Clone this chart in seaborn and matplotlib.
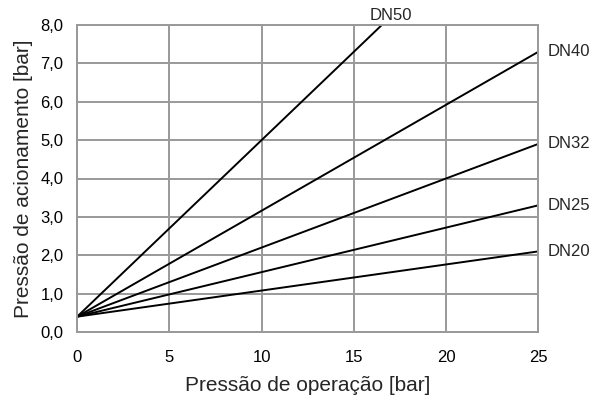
import matplotlib
matplotlib.use("Agg")
import matplotlib.pyplot as plt
import seaborn as sns
import pandas as pd

series = ["DN20", "DN25", "DN32", "DN40", "DN50"]
x_vals = [0, 25]
start_vals = [0.4, 0.4, 0.4, 0.4, 0.4]
end_vals = [2.1, 3.3, 4.9, 7.3, 11.9]
x_ticks = [0, 5, 10, 15, 20, 25]
y_ticks = [0, 1, 2, 3, 4, 5, 6, 7, 8]
y_tick_labels = ["0,0", "1,0", "2,0", "3,0", "4,0", "5,0", "6,0", "7,0", "8,0"]

rows = []
for s, a, b in zip(series, start_vals, end_vals):
    rows.append({"x": x_vals[0], "y": a, "s": s})
    rows.append({"x": x_vals[1], "y": b, "s": s})
df = pd.DataFrame(rows)

sns.set_style("white")
plt.rcParams["font.family"] = ["Liberation Sans", "DejaVu Sans"]

fig = plt.figure(figsize=(5.98, 4.0), dpi=100)
ax = fig.add_axes([0.129, 0.17, 0.771, 0.7675])

sns.lineplot(data=df, x="x", y="y", hue="s", palette=["black"] * 5,
             legend=False, ax=ax, linewidth=1.4)

ax.set_xlim(0, 25)
ax.set_ylim(0, 8)
ax.set_xticks(x_ticks)
ax.set_xticklabels([str(t) for t in x_ticks], fontsize=12)
ax.set_yticks(y_ticks)
ax.set_yticklabels(y_tick_labels, fontsize=12)
ax.grid(True, color="#999999", linewidth=1.4)
ax.set_axisbelow(True)
for sp in ax.spines.values():
    sp.set_color("#999999")
    sp.set_linewidth(1.4)
ax.tick_params(axis="both", direction="out", length=5, width=1.4, color="#999999",
               pad=5, colors="black")
ax.tick_params(axis="x", pad=8)
ax.set_xlabel("Pressão de operação [bar]", fontsize=15, labelpad=8)
ax.set_ylabel("Pressão de acionamento [bar]", fontsize=15, labelpad=5)

for s, b in zip(series, end_vals):
    if b <= 8:
        ax.text(25.5, b, s, fontsize=12, va="center", ha="left", clip_on=False)
    else:
        xe = (8 - start_vals[series.index(s)]) / (b - start_vals[series.index(s)]) * 25
        ax.text(xe + 0.5, 8.25, s, fontsize=12, va="center", ha="center", clip_on=False)

fig.savefig("out.png", dpi=100)
